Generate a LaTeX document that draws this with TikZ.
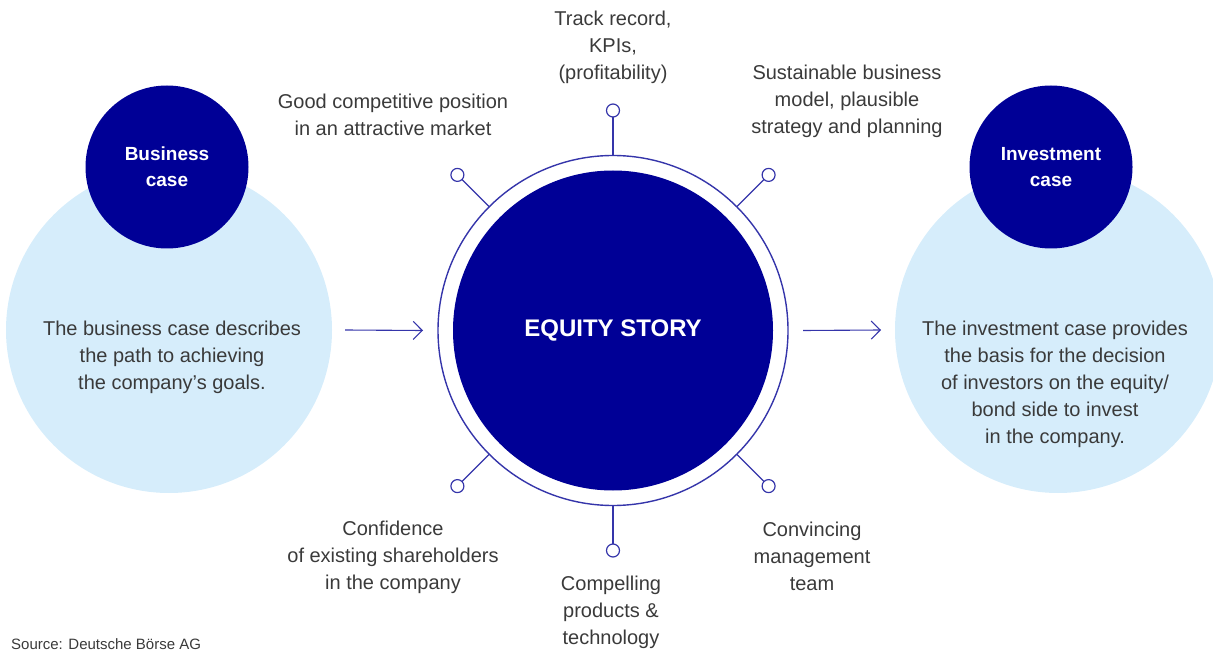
\documentclass[tikz,border=0pt]{standalone}
\usepackage{fontspec}
\setmainfont{Liberation Sans}
\usetikzlibrary{arrows.meta}
\definecolor{navy}{HTML}{000096}
\definecolor{paleblue}{HTML}{D6EDFB}
\definecolor{linec}{HTML}{3535AA}
\definecolor{txt}{HTML}{3A3A3A}
\tikzset{
  lightc/.style={circle,fill=paleblue,minimum size=326pt,inner sep=0pt,outer sep=0pt},
  darkc/.style={circle,fill=navy,minimum size=163pt,inner sep=0pt,outer sep=0pt,text=white,align=center,font=\fontsize{19}{26}\selectfont\bfseries},
  ringc/.style={circle,draw=linec,line width=1.4pt,minimum size=350pt,inner sep=0pt,outer sep=0pt},
  corec/.style={circle,fill=navy,minimum size=320pt,inner sep=0pt,outer sep=0pt,text=white,font=\fontsize{24}{28}\selectfont\bfseries},
  dotc/.style={circle,draw=linec,line width=1.2pt,fill=white,minimum size=13pt,inner sep=0pt,outer sep=0pt},
  spoke/.style={draw=linec,line width=1.3pt},
  lbl/.style={text=txt,align=center,inner sep=0pt,font=\fontsize{20}{27}\selectfont},
  flow/.style={draw=linec,line width=1.1pt,-{Straight Barb[length=9pt,width=18pt]}},
}
\begin{document}
\begin{tikzpicture}[x=1pt,y=-1pt]
\useasboundingbox (0,0) rectangle (1213,652);
% side circles
\node[lightc] (bizbg) at (169,330) {};
\node[lightc] (invbg) at (1058,330) {};
\node[darkc] (biz) at (167,167) {Business\\case};
\node[darkc] (inv) at (1051,167) {Investment\\case};
\node[lbl] (biztxt) at (172,357.5) {The business case describes\\the path to achieving\\the company’s goals.};
\node[lbl] (invtxt) at (1055,384.5) {The investment case provides\\the basis for the decision\\of investors on the equity/\\bond side to invest\\in the company.};
% central
\node[ringc] (ring) at (613,330.5) {};
\node[corec] (core) at (613,330.5) {EQUITY STORY};
% dots
\node[dotc] (dN) at (613,110.5) {};
\node[dotc] (dS) at (613,550.5) {};
\node[dotc] (dNE) at (768.6,174.9) {};
\node[dotc] (dNW) at (457.4,174.9) {};
\node[dotc] (dSE) at (768.6,486.1) {};
\node[dotc] (dSW) at (457.4,486.1) {};
\draw[spoke] (ring.north) -- (dN);
\draw[spoke] (ring.south) -- (dS);
\draw[spoke] (ring.north east) -- (dNE);
\draw[spoke] (ring.north west) -- (dNW);
\draw[spoke] (ring.south east) -- (dSE);
\draw[spoke] (ring.south west) -- (dSW);
% labels
\node[lbl] (tN) at (613,47.5) {Track record,\\KPIs,\\(profitability)};
\node[lbl] (tNW) at (393,115) {Good competitive position\\in an attractive market};
\node[lbl] (tNE) at (847,101.5) {Sustainable business\\model, plausible\\strategy and planning};
\node[lbl] (tSW) at (393,557) {Confidence\\of existing shareholders\\in the company};
\node[lbl] (tS) at (611,612) {Compelling\\products \&\\technology};
\node[lbl] (tSE) at (812,556) {Convincing\\management\\team};
% arrows
\draw[flow] ([xshift=13pt]bizbg.east) -- ([xshift=-15pt]ring.west);
\draw[flow] ([xshift=15pt]ring.east) -- ([xshift=-14pt]invbg.west);
% source
\node[anchor=west,text=txt,inner sep=0pt,font=\fontsize{15}{17}\selectfont] (src) at (11,644) {Source: Deutsche Börse AG};
\end{tikzpicture}
\end{document}
